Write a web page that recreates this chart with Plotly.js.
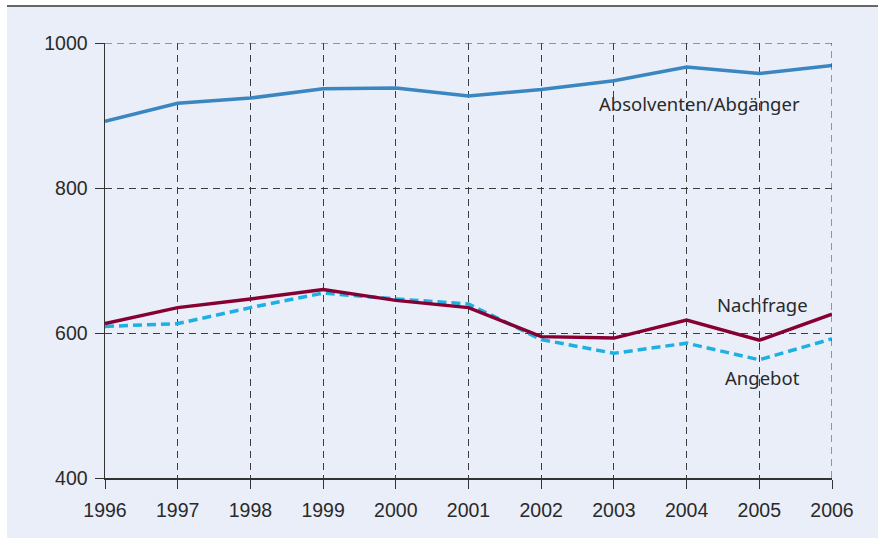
<!DOCTYPE html>
<html>
<head>
<meta charset="utf-8">
<script src="https://cdn.plot.ly/plotly-3.0.1.min.js"></script>
<style>
  html, body { margin: 0; padding: 0; background: #ffffff; width: 878px; height: 538px; overflow: hidden; }
  #chart { position: absolute; left: 7px; top: 5px; width: 871px; height: 531px; border-top: 2px solid #666666; }
</style>
</head>
<body>
<div id="chart"></div>
<script>
const years = [1996, 1997, 1998, 1999, 2000, 2001, 2002, 2003, 2004, 2005, 2006];
const absolventen = [892, 917, 924, 937, 938, 927, 936, 948, 967, 958, 969];
const nachfrage = [613, 635, 647, 660, 645, 635, 595, 593, 618, 590, 626];
const angebot = [609, 613, 635, 655, 647, 640, 591, 572, 586, 563, 592];
const yTicks = [400, 600, 800, 1000];
const labels = ["Absolventen/Abgänger", "Nachfrage", "Angebot"];

const traces = [
  { x: years, y: absolventen, mode: 'lines', line: { color: '#3a86c0', width: 3.5 }, hoverinfo: 'skip' },
  { x: years, y: angebot, mode: 'lines', line: { color: '#1fb0e2', width: 3.5, dash: '9px,5px' }, hoverinfo: 'skip' },
  { x: years, y: nachfrage, mode: 'lines', line: { color: '#870032', width: 3.5 }, hoverinfo: 'skip' }
];

const gridDash = '7px,5px';
const gridColor = '#3c3c3c';
const annFont = { family: 'Noto Sans, sans-serif', size: 18.5, color: '#2a2a2a' };

const layout = {
  width: 871, height: 531,
  margin: { l: 98, r: 46, t: 36, b: 60 },
  paper_bgcolor: '#e9eef8',
  plot_bgcolor: '#e9eef8',
  showlegend: false,
  font: { family: 'Liberation Sans, Arial, sans-serif', size: 19.5, color: '#2a2a2a' },
  xaxis: {
    range: [1996, 2006], tickvals: years, ticktext: years.map(String),
    showgrid: true, gridcolor: gridColor, griddash: gridDash, gridwidth: 1,
    showline: true, linecolor: '#333333', linewidth: 1.5,
    ticks: 'outside', ticklen: 9, tickcolor: '#333333', tickwidth: 1,
    ticklabelstandoff: 5,
    zeroline: false, fixedrange: true
  },
  yaxis: {
    range: [400, 1000], tickvals: yTicks, ticktext: yTicks.map(String),
    showgrid: true, gridcolor: gridColor, griddash: gridDash, gridwidth: 1,
    showline: true, linecolor: '#333333', linewidth: 1.5,
    ticks: 'outside', ticklen: 9, tickcolor: '#333333', tickwidth: 1,
    ticklabelstandoff: 3,
    zeroline: false, fixedrange: true
  },
  shapes: [
    { type: 'line', xref: 'paper', yref: 'y', x0: 0, x1: 1, y0: 1000, y1: 1000, line: { color: gridColor, width: 1, dash: gridDash } },
    { type: 'line', xref: 'x', yref: 'paper', x0: 2006, x1: 2006, y0: 0, y1: 1, line: { color: gridColor, width: 1, dash: gridDash } }
  ],
  annotations: [
    { x: 2004.18, y: 916, text: labels[0], showarrow: false, font: annFont },
    { x: 2005.04, y: 639, text: labels[1], showarrow: false, font: annFont },
    { x: 2005.04, y: 538, text: labels[2], showarrow: false, font: annFont }
  ]
};

Plotly.newPlot('chart', traces, layout, { displayModeBar: false, staticPlot: true });
</script>
</body>
</html>
